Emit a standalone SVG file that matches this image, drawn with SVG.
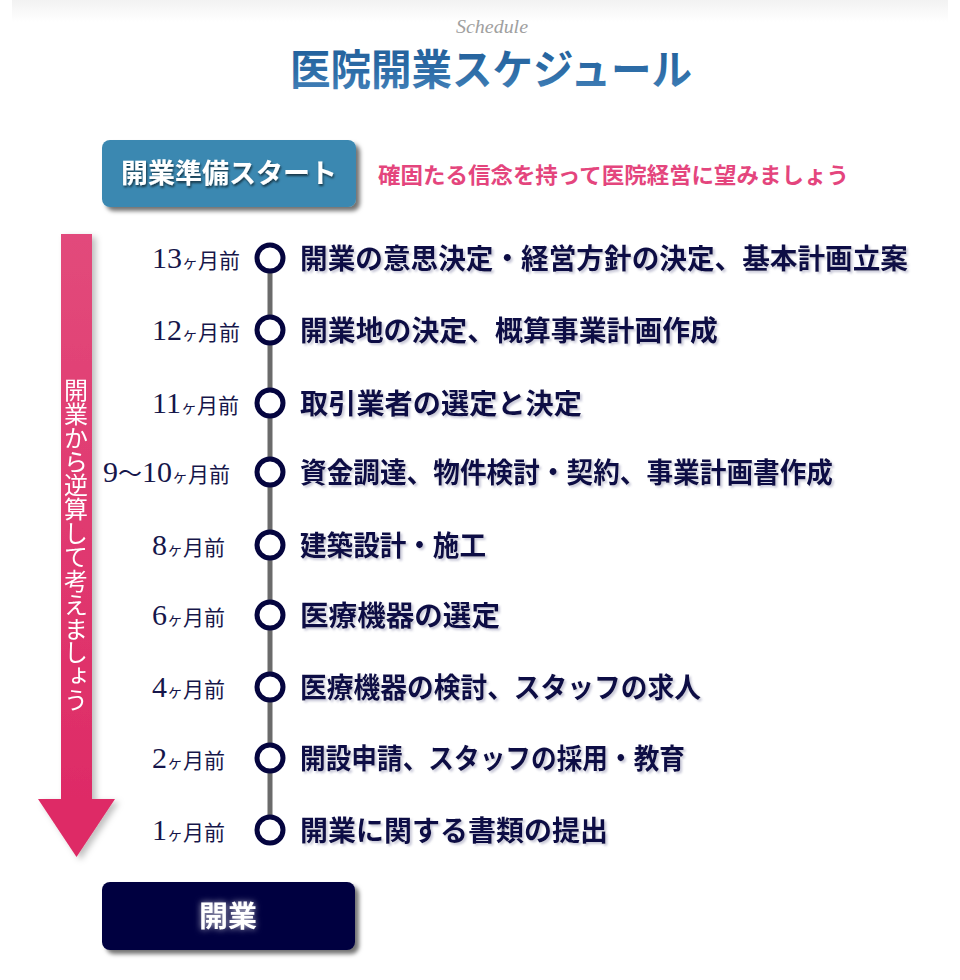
<svg xmlns="http://www.w3.org/2000/svg" width="960" height="980" viewBox="0 0 960 980">
<style>
.jp{font-family:"Noto Sans CJK JP","Noto Sans CJK SC",sans-serif}
.lbl{font-family:"Liberation Serif","Noto Sans CJK JP",serif;fill:#16164a}
.num{font-size:30px}
.ke{font-size:16px;font-family:"Noto Sans CJK JP",sans-serif}
.mo{font-size:21px;font-family:"Noto Sans CJK JP",sans-serif}
.item{font-family:"Noto Sans CJK JP",sans-serif;font-size:28px;font-weight:700;fill:#0d0d45}
.dot{fill:#fff;stroke:#05053f;stroke-width:5}
</style>
<defs>
<linearGradient id="topband" x1="0" y1="0" x2="0" y2="1">
<stop offset="0" stop-color="#f2f2f2"/>
<stop offset="1" stop-color="#ffffff"/>
</linearGradient>
<linearGradient id="titleg" x1="0" y1="0" x2="0" y2="1">
<stop offset="0" stop-color="#1f5b96"/>
<stop offset="0.6" stop-color="#2e6ea8"/>
<stop offset="1" stop-color="#4a86bd"/>
</linearGradient>
<linearGradient id="barg" x1="0" y1="0" x2="0" y2="1">
<stop offset="0" stop-color="#e24a7b"/>
<stop offset="1" stop-color="#de2b66"/>
</linearGradient>
<filter id="sh" x="-10%" y="-10%" width="130%" height="140%">
<feDropShadow dx="4" dy="4" stdDeviation="2" flood-color="#000" flood-opacity="0.55"/>
</filter>
<filter id="ash" x="-20%" y="-5%" width="150%" height="115%">
<feDropShadow dx="4" dy="3" stdDeviation="3" flood-color="#000" flood-opacity="0.25"/>
</filter>
<filter id="tsh" x="-5%" y="-20%" width="110%" height="150%">
<feDropShadow dx="1" dy="2" stdDeviation="1" flood-color="#000" flood-opacity="0.6"/>
</filter>
<filter id="glow" x="-20%" y="-40%" width="140%" height="180%">
<feDropShadow dx="0" dy="0" stdDeviation="3" flood-color="#ffffff" flood-opacity="0.7"/>
</filter>
<filter id="ish" x="-5%" y="-20%" width="110%" height="150%">
<feDropShadow dx="2" dy="2" stdDeviation="1" flood-color="#8888aa" flood-opacity="0.45"/>
</filter>
</defs>
<rect width="960" height="980" fill="#ffffff"/>
<rect x="12" y="0" width="936" height="22" fill="url(#topband)"/>

<g id="header">
<text x="492" y="33" text-anchor="middle" font-family="'Liberation Serif',serif" font-style="italic" font-size="18" fill="#a0a0a0" textLength="72" lengthAdjust="spacingAndGlyphs">Schedule</text>
<text x="491" y="85" text-anchor="middle" class="jp" font-size="42" font-weight="700" fill="url(#titleg)" textLength="402" lengthAdjust="spacingAndGlyphs">医院開業スケジュール</text>
</g>

<g id="start">
<rect x="102" y="140" width="254" height="67" rx="8" fill="#3b88b1" filter="url(#sh)"/>
<text x="229" y="183" text-anchor="middle" class="jp" font-size="27" font-weight="700" fill="#ffffff" filter="url(#tsh)" textLength="216" lengthAdjust="spacingAndGlyphs">開業準備スタート</text>
</g>
<g id="motto">
<text x="378" y="183" class="jp" font-size="22" font-weight="700" fill="#e4457d" textLength="471" lengthAdjust="spacingAndGlyphs">確固たる信念を持って医院経営に望みましょう</text>
</g>

<g id="arrow" filter="url(#ash)">
<rect x="61" y="234" width="31" height="567" fill="url(#barg)"/>
<polygon points="38,799 115,799 76.5,857" fill="#de2b66"/>
<text x="76" y="378" class="jp" font-size="24" fill="#ffffff" style="writing-mode:vertical-rl" textLength="334" lengthAdjust="spacingAndGlyphs">開業から逆算して考えましょう</text>
</g>

<g id="connectors">
<line x1="270" y1="243" x2="270" y2="830" stroke="#6b6b6b" stroke-width="5"/>
</g>

<g id="step13">
<circle class="dot" cx="270" cy="258" r="13"/>
<text class="lbl" x="152" y="268"><tspan class="num">13</tspan><tspan class="ke">ヶ</tspan><tspan class="mo">月前</tspan></text>
<text class="item" x="300" y="269" filter="url(#ish)" textLength="608" lengthAdjust="spacingAndGlyphs">開業の意思決定・経営方針の決定、基本計画立案</text>
</g>
<g id="step12">
<circle class="dot" cx="270" cy="330" r="13"/>
<text class="lbl" x="152" y="340"><tspan class="num">12</tspan><tspan class="ke">ヶ</tspan><tspan class="mo">月前</tspan></text>
<text class="item" x="300" y="341" filter="url(#ish)" textLength="418" lengthAdjust="spacingAndGlyphs">開業地の決定、概算事業計画作成</text>
</g>
<g id="step11">
<circle class="dot" cx="270" cy="403" r="13"/>
<text class="lbl" x="152" y="413"><tspan class="num">11</tspan><tspan class="ke">ヶ</tspan><tspan class="mo">月前</tspan></text>
<text class="item" x="300" y="414" filter="url(#ish)" textLength="282" lengthAdjust="spacingAndGlyphs">取引業者の選定と決定</text>
</g>
<g id="step9">
<circle class="dot" cx="270" cy="472" r="13"/>
<text class="lbl" x="103" y="482"><tspan class="num">9</tspan><tspan font-size="24">～</tspan><tspan class="num">10</tspan><tspan class="ke">ヶ</tspan><tspan class="mo">月前</tspan></text>
<text class="item" x="300" y="483" filter="url(#ish)" textLength="533" lengthAdjust="spacingAndGlyphs">資金調達、物件検討・契約、事業計画書作成</text>
</g>
<g id="step8">
<circle class="dot" cx="270" cy="545" r="13"/>
<text class="lbl" x="152" y="555"><tspan class="num">8</tspan><tspan class="ke">ヶ</tspan><tspan class="mo">月前</tspan></text>
<text class="item" x="300" y="556" filter="url(#ish)" textLength="186" lengthAdjust="spacingAndGlyphs">建築設計・施工</text>
</g>
<g id="step6">
<circle class="dot" cx="270" cy="615" r="13"/>
<text class="lbl" x="152" y="625"><tspan class="num">6</tspan><tspan class="ke">ヶ</tspan><tspan class="mo">月前</tspan></text>
<text class="item" x="300" y="626" filter="url(#ish)" textLength="200" lengthAdjust="spacingAndGlyphs">医療機器の選定</text>
</g>
<g id="step4">
<circle class="dot" cx="270" cy="687" r="13"/>
<text class="lbl" x="152" y="697"><tspan class="num">4</tspan><tspan class="ke">ヶ</tspan><tspan class="mo">月前</tspan></text>
<text class="item" x="300" y="698" filter="url(#ish)" textLength="401" lengthAdjust="spacingAndGlyphs">医療機器の検討、スタッフの求人</text>
</g>
<g id="step2">
<circle class="dot" cx="270" cy="758" r="13"/>
<text class="lbl" x="152" y="768"><tspan class="num">2</tspan><tspan class="ke">ヶ</tspan><tspan class="mo">月前</tspan></text>
<text class="item" x="300" y="769" filter="url(#ish)" textLength="385" lengthAdjust="spacingAndGlyphs">開設申請、スタッフの採用・教育</text>
</g>
<g id="step1">
<circle class="dot" cx="270" cy="830" r="13"/>
<text class="lbl" x="152" y="840"><tspan class="num">1</tspan><tspan class="ke">ヶ</tspan><tspan class="mo">月前</tspan></text>
<text class="item" x="300" y="841" filter="url(#ish)" textLength="308" lengthAdjust="spacingAndGlyphs">開業に関する書類の提出</text>
</g>

<g id="open">
<rect x="102" y="882" width="253" height="68" rx="8" fill="#03033f" filter="url(#sh)"/>
<text x="228" y="927" text-anchor="middle" class="jp" font-size="29" font-weight="700" fill="#ffffff" filter="url(#glow)">開業</text>
</g>
</svg>
